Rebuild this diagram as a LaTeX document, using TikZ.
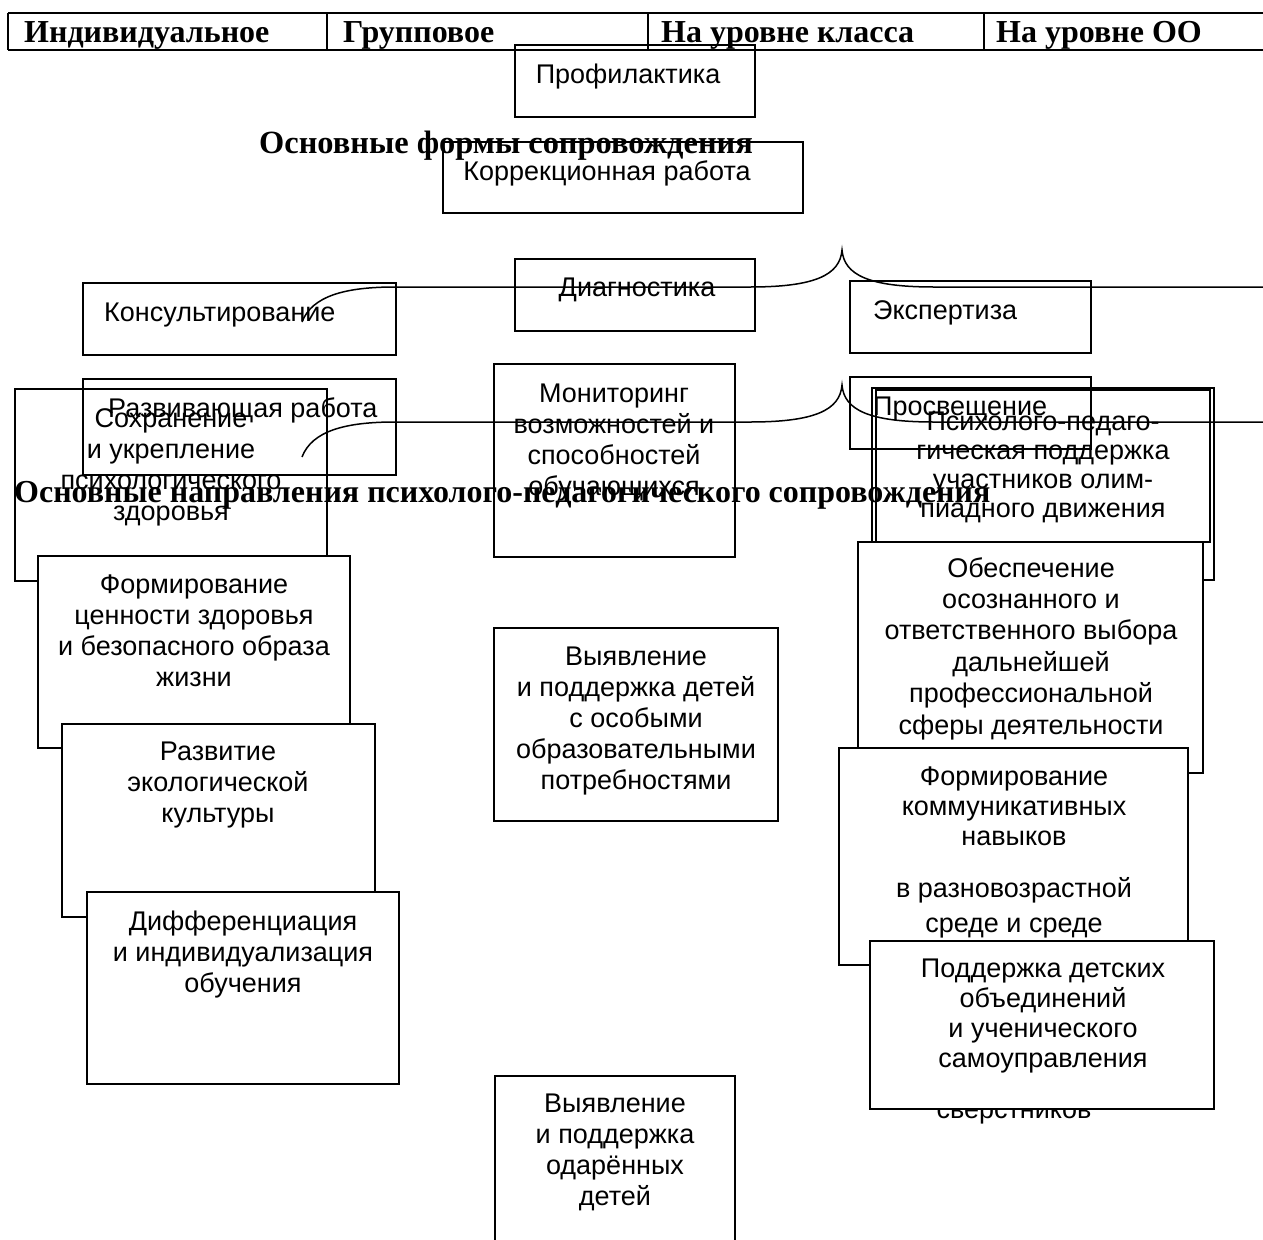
\documentclass[tikz,border=0pt]{standalone}
\usepackage{fontspec}
\setmainfont{Liberation Serif}
\newfontfamily\arialfont{Liberation Sans}
\newcommand{\stk}[2]{\parbox[t]{420pt}{\centering\arialfont\fontsize{27}{#1}\selectfont\lineskiplimit=-100pt\lineskip=0pt #2}}
\tikzset{
  frame/.style={draw=black, line width=1.8pt},
  wframe/.style={frame, fill=white},
  tline/.style={draw=black, line width=2pt},
  braceline/.style={draw=black, line width=1.5pt},
  lbl/.style={inner sep=0pt, font=\arialfont\fontsize{27}{31}\selectfont},
  hdr/.style={inner sep=0pt, anchor=base west, font=\bfseries\fontsize{32}{36}\selectfont},
}
\begin{document}
\begin{tikzpicture}[x=1pt,y=-1pt]
\useasboundingbox (0,0) rectangle (1263,1239);
\clip (0,0) rectangle (1263,1239);
\fill[white] (0,0) rectangle (1263,1239);
% table
\draw[tline] (8,13) -- (1270,13);
\draw[tline] (8,50) -- (1270,50);
\foreach \cx in {8,327,648,984} \draw[tline] (\cx,13) -- (\cx,50);
\node[hdr] (h1) at (24,43) {Индивидуальное};
\node[hdr] (h2) at (343,43) {Групповое};
\node[hdr] (h3) at (661,43) {На уровне класса};
\node[hdr] (h4) at (996,43) {На уровне ОО};
% forms
\draw[frame] (515,45) rectangle (755,117);
\node[lbl, anchor=base] (tProf) at (628,83) {Профилактика};
\draw[frame] (443,142) rectangle (803,213);
\node[lbl, anchor=base] (tKorr) at (607,180) {Коррекционная работа};
\draw[frame] (515,259) rectangle (755,331);
\node[lbl, anchor=base] (tDiag) at (637,296) {Диагностика};
\draw[frame] (83,283) rectangle (396,355);
\node[lbl, anchor=base west] (tKons) at (104,321) {Консультирование};
\draw[frame] (83,379) rectangle (396,475);
\node[lbl, anchor=base west] (tRazv) at (108,417) {Развивающая работа};
\draw[frame] (850,281) rectangle (1091,353);
\node[lbl, anchor=base west] (tExp) at (873,319) {Экспертиза};
\draw[frame] (850,377) rectangle (1091,449);
\node[lbl, anchor=base west] (tProsv) at (873,415) {Просвещение};
% directions
\draw[frame] (15,389) rectangle (327,581);
\node[lbl, anchor=base] (tSokh) at (171,427) {\stk{31}{Сохранение\\и укрепление\\психологического\\здоровья}};
\draw[frame] (494,364) rectangle (735,557);
\node[lbl, anchor=base] (tMon) at (614,402) {\stk{31}{Мониторинг\\возможностей и\\способностей\\обучающихся}};
\draw[frame] (872,388) rectangle (1214,580);
\draw[frame] (876,390) rectangle (1210,542);
\node[lbl, anchor=base] (tOlymp) at (1043,430) {\stk{29}{Психолого-педаго-\\гическая поддержка\\участников олим-\\пиадного движения}};
\draw[wframe] (38,556) rectangle (350,748);
\node[lbl, anchor=base] (tZdor) at (194,593) {\stk{31}{Формирование\\ценности здоровья\\и безопасного образа\\жизни}};
\draw[wframe] (62,724) rectangle (375,917);
\node[lbl, anchor=base] (tEkol) at (218,760) {\stk{31}{Развитие\\экологической\\культуры}};
\draw[wframe] (87,892) rectangle (399,1084);
\node[lbl, anchor=base] (tDiff) at (243,930) {\stk{31}{Дифференциация\\и индивидуализация\\обучения}};
\draw[wframe] (858,542) rectangle (1203,773);
\node[lbl, anchor=base] (tProf2) at (1031,577) {\stk{31.4}{Обеспечение\\осознанного и\\ответственного выбора\\дальнейшей\\профессиональной\\сферы деятельности}};
\draw[wframe] (839,748) rectangle (1188,965);
\node[lbl, anchor=base] (tKomm) at (1014,785) {\stk{30}{Формирование\\коммуникативных\\навыков\\[22pt]в разновозрастной\\[5pt]среде и среде}};
\node[lbl, anchor=base] (tSver) at (1014,1118) {сверстников};
\draw[wframe] (870,941) rectangle (1214,1109);
\node[lbl, anchor=base] (tObed) at (1043,977) {\stk{30.3}{Поддержка детских\\объединений\\и ученического\\самоуправления}};
\draw[frame] (494,628) rectangle (778,821);
\node[lbl, anchor=base] (tOsob) at (636,665) {\stk{31}{Выявление\\и поддержка детей\\с особыми\\образовательными\\потребностями}};
\draw[frame] (495,1076) rectangle (735,1290);
\node[lbl, anchor=base] (tOdar) at (615,1112) {\stk{31}{Выявление\\и поддержка\\одарённых\\детей}};
% braces
\draw[braceline] (302,322) .. controls (312,296) and (345,287) .. (395,287) -- (750,287) .. controls (815,287) and (840,275) .. (842,250) .. controls (844,275) and (869,287) .. (934,287) -- (1270,287);
\draw[braceline] (302,457) .. controls (312,431) and (345,422) .. (395,422) -- (750,422) .. controls (815,422) and (840,410) .. (842,385) .. controls (844,410) and (869,422) .. (934,422) -- (1270,422);
% titles
\node[hdr, font=\bfseries\fontsize{32.4}{36}\selectfont] (title1) at (259,153) {Основные формы сопровождения};
\node[hdr] (title2) at (14,502) {Основные направления психолого-педагогического сопровождения};
\end{tikzpicture}
\end{document}
